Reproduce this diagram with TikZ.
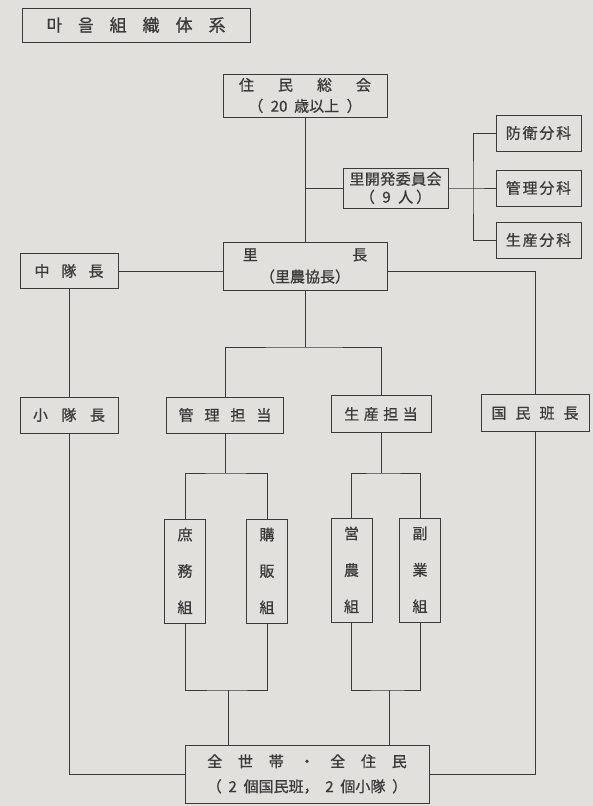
\documentclass[tikz,border=0pt]{standalone}
\usepackage{fontspec}
\setmainfont{Noto Sans CJK JP}[FakeBold=0.8]
\definecolor{Paper}{RGB}{226, 224, 220}
\definecolor{Ink}{RGB}{58, 58, 58}
\usetikzlibrary{positioning}
\newcommand{\gp}[1]{\hspace{#1em}}

\begin{document}
\begin{tikzpicture}[x=1pt, y=-1pt,
  every node/.style={font=\fontsize{15}{18}\selectfont, text=Ink},
  orgbox/.style={draw=Ink, line width=0.9pt, fill=Paper, inner sep=0pt, align=center},
  twoline/.style={font=\fontsize{15}{21}\selectfont},
  bunkabox/.style={orgbox, minimum width=85pt, minimum height=36pt},
  vbox/.style={orgbox, minimum width=41pt, minimum height=104pt, font=\fontsize{15}{36.5}\selectfont},
  link/.style={draw=Ink, line width=0.8pt}]
\fill[Paper] (0,0) rectangle (593,806);
% title
\node[orgbox, minimum width=228pt, minimum height=34pt, font=\fontsize{17}{20}\selectfont] (title) at (136,25) {마\gp{0.94}을\gp{0.94}組\gp{0.94}織\gp{0.94}体\gp{0.94}系};
% top level
\node[orgbox, twoline, minimum width=164pt, minimum height=43pt] (assembly) at (305,95.5) {住\gp{1.6}民\gp{1.6}総\gp{1.6}会\\（\gp{0.5}20\gp{0.45}歳以上\gp{0.5}）};
\node[orgbox, minimum width=105pt, minimum height=40pt] (council) at (395.5,188) {里\gp{0.03}開\gp{0.03}発\gp{0.03}委\gp{0.03}員\gp{0.03}会\\（\gp{0.5}9\gp{0.5}人\gp{0.2}）};
\node[bunkabox] (defense) at (538.5,133) {防\gp{0.12}衛\gp{0.12}分\gp{0.12}科};
\node[bunkabox] (manage) at (538.5,188) {管\gp{0.12}理\gp{0.12}分\gp{0.12}科};
\node[bunkabox] (produce) at (538.5,240) {生\gp{0.12}産\gp{0.12}分\gp{0.12}科};
\coordinate (bus) at (473,188);
% village head
\node[orgbox, font=\fontsize{15}{22}\selectfont, minimum width=164pt, minimum height=48pt] (head) at (305,266) {里\gp{6.3}長\\（里農協長）};
\node[orgbox, minimum width=98pt, minimum height=35pt] (midlead) at (69,271) {中\gp{0.8}隊\gp{0.8}長};
\node[orgbox, minimum width=98pt, minimum height=36pt] (smalllead) at (69,415) {小\gp{0.9}隊\gp{0.9}長};
\node[orgbox, minimum width=117pt, minimum height=36pt] (admin) at (225,415) {管\gp{0.73}理\gp{0.73}担\gp{0.73}当};
\node[orgbox, minimum width=100pt, minimum height=37pt] (prod) at (381,414) {生\gp{0.3}産\gp{0.3}担\gp{0.3}当};
\node[orgbox, minimum width=108pt, minimum height=37pt] (banlead) at (535,413) {国\gp{0.6}民\gp{0.6}班\gp{0.6}長};
\coordinate (hfork) at (305,347);
% groups
\node[vbox] (general) at (185,571) {庶\\務\\組};
\node[vbox] (purchase) at (267,571) {購\\販\\組};
\node[vbox] (farming) at (351.5,570) {営\\農\\組};
\node[vbox] (sideline) at (420,570) {副\\業\\組};
\coordinate (afork) at (225,473);
\coordinate (pfork) at (381,473);
\coordinate (ajoin) at (228,690);
\coordinate (pjoin) at (389,690);
% all households
\node[orgbox, font=\fontsize{15}{25}\selectfont, minimum width=244pt, minimum height=58pt] (all) at (307,774) {全\gp{1.05}世\gp{1.05}帯\gp{1.05}・\gp{1.05}全\gp{1.05}住\gp{1.05}民\\（\gp{0.45}2\gp{0.45}個国民班，\gp{0.45}2\gp{0.45}個小隊\gp{0.45}）};

\draw[link] (assembly.south) -- (head.north);
\draw[link] (assembly.south |- council.west) -- (council.west);
\draw[link] (council.east) -- (bus) -- (manage.west);
\draw[link] (defense.west) -| (bus) |- (produce.west);
\draw[link] (midlead.east) -- (midlead.east -| head.west);
\draw[link] (head.east |- midlead.east) -| (banlead.north);
\draw[link] (midlead.south) -- (smalllead.north);
\draw[link] (head.south) -- (hfork);
\draw[link] (admin.north) |- (hfork) -| (prod.north);
\draw[link] (admin.south) -- (afork);
\draw[link] (general.north) |- (afork) -| (purchase.north);
\draw[link] (prod.south) -- (pfork);
\draw[link] (farming.north) |- (pfork) -| (sideline.north);
\draw[link] (general.south) |- (ajoin) -| (purchase.south);
\draw[link] (ajoin) -- (ajoin |- all.north);
\draw[link] (farming.south) |- (pjoin) -| (sideline.south);
\draw[link] (pjoin) -- (pjoin |- all.north);
\draw[link] (smalllead.south) |- (all.west);
\draw[link] (banlead.south) |- (all.east);
\end{tikzpicture}
\end{document}
